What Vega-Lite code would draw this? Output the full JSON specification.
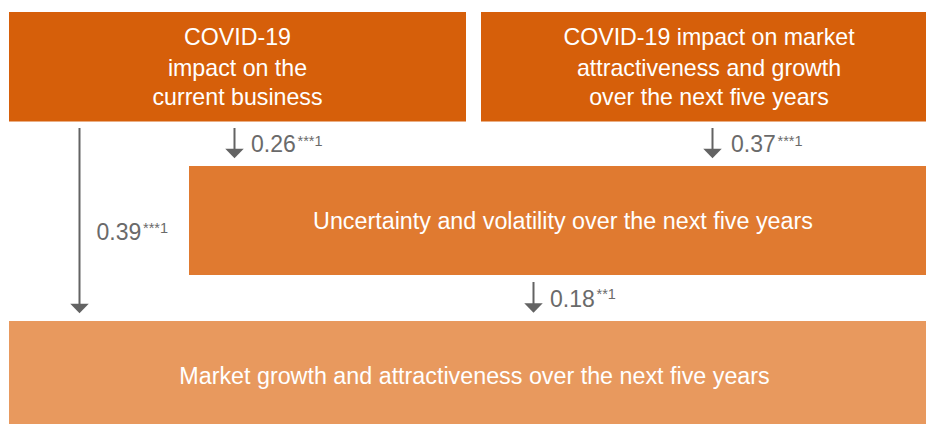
{
  "$schema": "https://vega.github.io/schema/vega-lite/v6.json",
  "width": 926,
  "height": 424,
  "autosize": {"type": "fit", "contains": "padding"},
  "padding": 0,
  "background": "white",
  "config": {"view": {"stroke": null}, "text": {"font": "Liberation Sans"}},
  "datasets": {
    "boxes": [
      {"name": "COVID-19 impact on the current business", "level": "top", "x0": 9, "x1": 466, "y0": 12, "y1": 121.5},
      {"name": "COVID-19 impact on market attractiveness and growth", "level": "top", "x0": 481, "x1": 926, "y0": 12, "y1": 121.5},
      {"name": "Uncertainty and volatility", "level": "middle", "x0": 189, "x1": 926, "y0": 166, "y1": 275},
      {"name": "Market growth and attractiveness", "level": "bottom", "x0": 9, "x1": 926, "y0": 321, "y1": 424}
    ],
    "topText": [
      {"t": "COVID-19", "x": 237.5, "y": 45},
      {"t": "impact on the", "x": 237.5, "y": 75.5},
      {"t": "current business", "x": 237.5, "y": 105},
      {"t": "COVID-19 impact on market", "x": 709, "y": 45},
      {"t": "attractiveness and growth", "x": 709, "y": 75.5},
      {"t": "over the next five years", "x": 709, "y": 105}
    ],
    "lowText": [
      {"t": "Uncertainty and volatility over the next five years", "x": 563, "y": 229.3},
      {"t": "Market growth and attractiveness over the next five years", "x": 474.5, "y": 384.3}
    ],
    "arrows": [
      {"x": 234.5, "y0": 128, "tip": 158.5},
      {"x": 712.5, "y0": 128, "tip": 158.5},
      {"x": 79.5, "y0": 128, "tip": 313.5},
      {"x": 533.5, "y0": 282, "tip": 313}
    ],
    "coef": [
      {"t": "0.26", "x": 251, "y": 151.7},
      {"t": "0.37", "x": 731, "y": 151.7},
      {"t": "0.39", "x": 96.5, "y": 240},
      {"t": "0.18", "x": 550, "y": 306.7}
    ],
    "sig": [
      {"t": "***1", "x": 297.5, "y": 146},
      {"t": "***1", "x": 777.5, "y": 146},
      {"t": "***1", "x": 143, "y": 232.5},
      {"t": "**1", "x": 596.5, "y": 299.3}
    ]
  },
  "layer": [
    {
      "data": {"name": "boxes"},
      "mark": {"type": "rect"},
      "encoding": {
        "x": {"field": "x0", "type": "quantitative", "scale": {"domain": [0, 926], "nice": false, "zero": false}, "axis": null},
        "x2": {"field": "x1"},
        "y": {"field": "y0", "type": "quantitative", "scale": {"domain": [0, 424], "nice": false, "zero": false, "reverse": true}, "axis": null},
        "y2": {"field": "y1"},
        "color": {"field": "level", "type": "nominal", "scale": {"domain": ["top", "middle", "bottom"], "range": ["#D65F0A", "#E07A30", "#E8995E"]}, "legend": null}
      }
    },
    {
      "data": {"name": "topText"},
      "mark": {"type": "text", "fontSize": 23.2, "align": "center", "baseline": "alphabetic", "color": "white"},
      "encoding": {
        "x": {"field": "x", "type": "quantitative", "scale": {"domain": [0, 926], "nice": false, "zero": false}, "axis": null},
        "y": {"field": "y", "type": "quantitative", "scale": {"domain": [0, 424], "nice": false, "zero": false, "reverse": true}, "axis": null},
        "text": {"field": "t", "type": "nominal"}
      }
    },
    {
      "data": {"name": "lowText"},
      "mark": {"type": "text", "fontSize": 23.3, "align": "center", "baseline": "alphabetic", "color": "white"},
      "encoding": {
        "x": {"field": "x", "type": "quantitative", "scale": {"domain": [0, 926], "nice": false, "zero": false}, "axis": null},
        "y": {"field": "y", "type": "quantitative", "scale": {"domain": [0, 424], "nice": false, "zero": false, "reverse": true}, "axis": null},
        "text": {"field": "t", "type": "nominal"}
      }
    },
    {
      "data": {"name": "arrows"},
      "mark": {"type": "rule", "color": "#636363", "strokeWidth": 2, "y2Offset": -6},
      "encoding": {
        "x": {"field": "x", "type": "quantitative", "scale": {"domain": [0, 926], "nice": false, "zero": false}, "axis": null},
        "y": {"field": "y0", "type": "quantitative", "scale": {"domain": [0, 424], "nice": false, "zero": false, "reverse": true}, "axis": null},
        "y2": {"field": "tip"}
      }
    },
    {
      "data": {"name": "arrows"},
      "mark": {"type": "point", "shape": "M-1,-0.5L1,-0.5L0,0.55Z", "filled": true, "opacity": 1, "color": "#636363", "size": 340, "yOffset": -5.2},
      "encoding": {
        "x": {"field": "x", "type": "quantitative", "scale": {"domain": [0, 926], "nice": false, "zero": false}, "axis": null},
        "y": {"field": "tip", "type": "quantitative", "scale": {"domain": [0, 424], "nice": false, "zero": false, "reverse": true}, "axis": null}
      }
    },
    {
      "data": {"name": "coef"},
      "mark": {"type": "text", "fontSize": 23, "align": "left", "baseline": "alphabetic", "color": "#6A6A6A"},
      "encoding": {
        "x": {"field": "x", "type": "quantitative", "scale": {"domain": [0, 926], "nice": false, "zero": false}, "axis": null},
        "y": {"field": "y", "type": "quantitative", "scale": {"domain": [0, 424], "nice": false, "zero": false, "reverse": true}, "axis": null},
        "text": {"field": "t", "type": "nominal"}
      }
    },
    {
      "data": {"name": "sig"},
      "mark": {"type": "text", "fontSize": 14.5, "align": "left", "baseline": "alphabetic", "color": "#6A6A6A"},
      "encoding": {
        "x": {"field": "x", "type": "quantitative", "scale": {"domain": [0, 926], "nice": false, "zero": false}, "axis": null},
        "y": {"field": "y", "type": "quantitative", "scale": {"domain": [0, 424], "nice": false, "zero": false, "reverse": true}, "axis": null},
        "text": {"field": "t", "type": "nominal"}
      }
    }
  ]
}
